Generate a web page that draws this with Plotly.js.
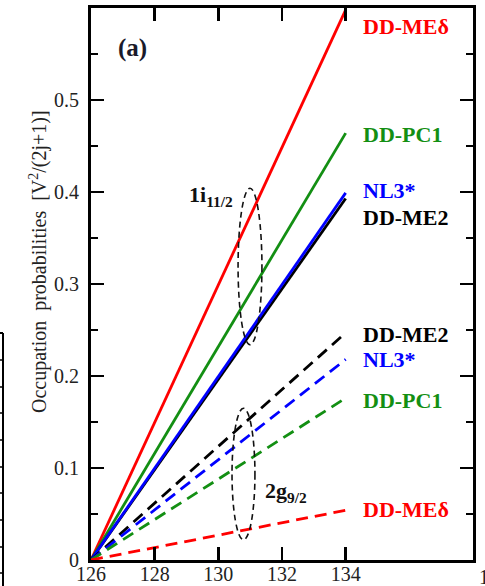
<!DOCTYPE html>
<html><head><meta charset="utf-8">
<script src="https://cdn.plot.ly/plotly-3.0.1.min.js"></script>
<style>body{margin:0;padding:0;background:#fff}#chart{width:485px;height:586px}</style>
</head><body><div id="chart"></div>
<script>
// Neutron number N
const neutronN = [126, 134];
// 1i11/2 occupation probabilities (solid)
const i11_DDMEd = [0, 0.598];
const i11_DDPC1 = [0, 0.464];
const i11_NL3s  = [0, 0.399];
const i11_DDME2 = [0, 0.393];
// 2g9/2 occupation probabilities (dashed)
const g9_DDME2 = [0, 0.247];
const g9_NL3s  = [0, 0.218];
const g9_DDPC1 = [0, 0.176];
const g9_DDMEd = [0, 0.054];

const xTicks = [126, 128, 130, 132, 134];
const yTicks = [0, 0.1, 0.2, 0.3, 0.4, 0.5];
const yTickText = ['0', '0.1', '0.2', '0.3', '0.4', '0.5'];

const RED = '#ff0000', GREEN = '#138f13', BLUE = '#0000ff', BLACK = '#000000';
const DASH = '12px,7px';

function tr(y, color, dash) {
  return {x: neutronN, y: y, mode: 'lines', type: 'scatter',
    line: {color: color, width: 2.8, dash: dash || 'solid'}, hoverinfo: 'skip', showlegend: false};
}
const data = [
  tr(i11_DDMEd, RED), tr(i11_DDPC1, GREEN), tr(i11_DDME2, BLACK), tr(i11_NL3s, BLUE),
  tr(g9_DDME2, BLACK, DASH), tr(g9_NL3s, BLUE, DASH), tr(g9_DDPC1, GREEN, DASH), tr(g9_DDMEd, RED, DASH)
];

const serif = 'Liberation Serif, Times New Roman, serif';
function lab(txt, y, color) {
  return {x: 134.48, y: y, xref: 'x', yref: 'y', text: '<b>' + txt + '</b>', showarrow: false,
    xanchor: 'left', yanchor: 'middle', font: {family: serif, size: 22, color: color}};
}
const annotations = [
  lab('DD-MEδ', 0.580, RED),
  lab('DD-PC1', 0.462, GREEN),
  lab('NL3*', 0.402, BLUE),
  lab('DD-ME2', 0.372, BLACK),
  lab('DD-ME2', 0.245, BLACK),
  lab('NL3*', 0.218, BLUE),
  lab('DD-PC1', 0.173, GREEN),
  lab('DD-MEδ', 0.055, RED),
  {x: 127.29, y: 0.557, text: '<b>(a)</b>', showarrow: false, xanchor: 'center', yanchor: 'middle',
   font: {family: serif, size: 25, color: '#1a1a2a'}},
  {x: 129.02, y: 0.396, text: '<b>1i<sub>11/2</sub></b>', showarrow: false, xanchor: 'left', yanchor: 'middle',
   font: {family: serif, size: 22, color: '#111'}},
  {x: 131.40, y: 0.074, text: '<b>2g<sub>9/2</sub></b>', showarrow: false, xanchor: 'left', yanchor: 'middle',
   font: {family: serif, size: 22, color: '#111'}},
  {x: (38 - 91) / 382, y: (560 - 262) / 552, xref: 'paper', yref: 'paper', textangle: -90,
   text: 'Occupation\u00a0\u00a0probabilities\u00a0\u00a0[V<sup>2</sup>/(2j+1)]', showarrow: false,
   xanchor: 'center', yanchor: 'middle', font: {family: serif, size: 20, color: '#222'}},
  {x: (477 - 91) / 382, y: -0.03, xref: 'paper', yref: 'paper', text: '126', showarrow: false,
   xanchor: 'left', yanchor: 'middle', font: {family: serif, size: 20, color: '#222'}}
];

const shapes = [
  {type: 'circle', xref: 'x', yref: 'y', x0: 130.62, x1: 131.37, y0: 0.234, y1: 0.404,
   line: {color: '#111', width: 1.6, dash: '6px,4px'}},
  {type: 'circle', xref: 'x', yref: 'y', x0: 130.43, x1: 131.15, y0: 0.022, y1: 0.165,
   line: {color: '#111', width: 1.6, dash: '6px,4px'}},
  // neighbour panel frame at far left
  {type: 'line', xref: 'paper', yref: 'paper', x0: (3 - 91) / 382, x1: (3 - 91) / 382,
   y0: (560 - 333) / 552, y1: (560 - 590) / 552, line: {color: '#000', width: 2}},
  {type: 'line', xref: 'paper', yref: 'paper', x0: (-2 - 91) / 382, x1: (3 - 91) / 382,
   y0: (560 - 333) / 552, y1: (560 - 333) / 552, line: {color: '#000', width: 2}}
];
[360, 387, 413, 440, 467, 493, 520, 547, 573].forEach(function (py) {
  shapes.push({type: 'line', xref: 'paper', yref: 'paper', x0: (-2 - 91) / 382, x1: (3 - 91) / 382,
    y0: (560 - py) / 552, y1: (560 - py) / 552, line: {color: '#000', width: 1.5}});
});

const layout = {
  width: 485, height: 586,
  margin: {l: 91, r: 12, t: 8, b: 26, pad: 0},
  paper_bgcolor: '#fff', plot_bgcolor: '#fff',
  showlegend: false,
  font: {family: serif, color: '#222'},
  xaxis: {range: [126, 138], showgrid: false, zeroline: false,
    tickvals: xTicks, ticktext: xTicks.map(String), ticks: 'inside', ticklen: 13, tickwidth: 2.6,
    tickcolor: '#000', showline: true, linecolor: '#000', linewidth: 3, mirror: 'ticks',
    tickfont: {family: serif, size: 20, color: '#222'}, ticklabelstandoff: -6},
  yaxis: {range: [0, 0.6], showgrid: false, zeroline: false,
    tickvals: yTicks, ticktext: yTickText, ticks: 'inside', ticklen: 13, tickwidth: 2.6,
    tickcolor: '#000', showline: true, linecolor: '#000', linewidth: 3, mirror: 'ticks',
    minor: {tickvals: [0.05, 0.15, 0.25, 0.35, 0.45, 0.55], ticks: 'inside', ticklen: 7, tickwidth: 2.2, tickcolor: '#000'},
    tickfont: {family: serif, size: 20, color: '#222'}, ticklabelstandoff: 5},
  annotations: annotations,
  shapes: shapes
};
Plotly.newPlot('chart', data, layout, {displayModeBar: false, staticPlot: true});
</script></body></html>
